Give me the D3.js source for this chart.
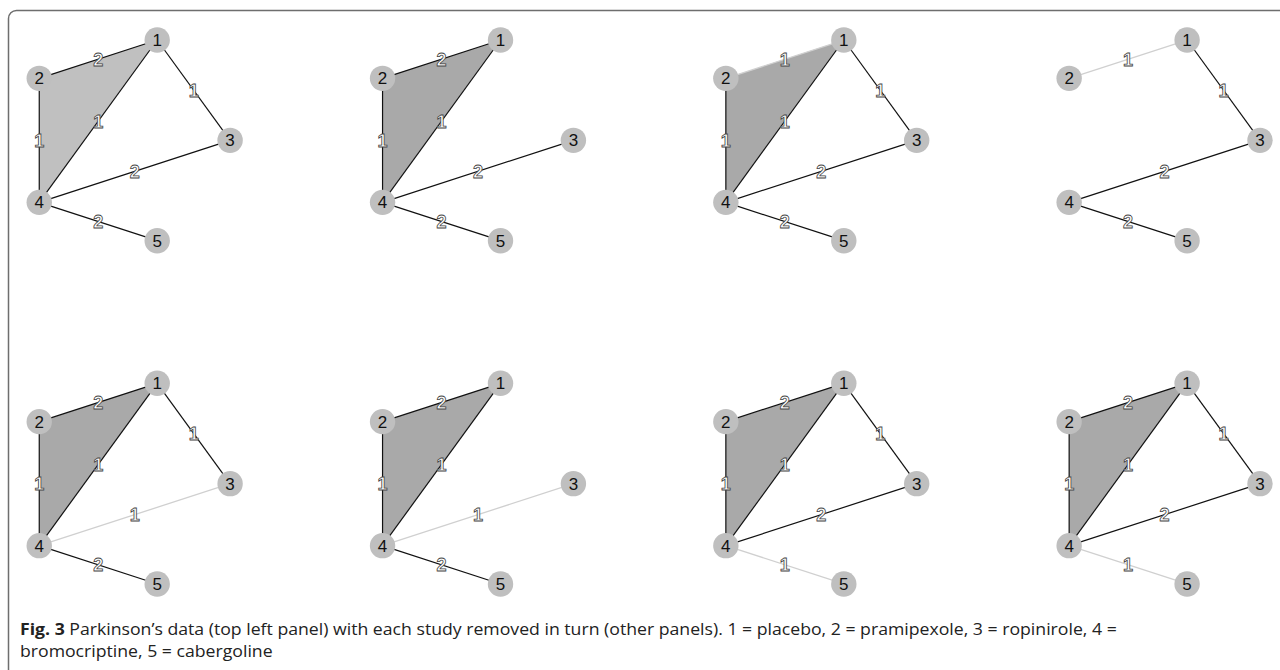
<!DOCTYPE html>
<html>
<head>
<meta charset="utf-8">
<script src="https://cdn.jsdelivr.net/npm/d3@7"></script>
<style>
  body { margin: 0; background: #fff; }
  svg { display: block; }
</style>
</head>
<body>
<div id="chart"></div>
<script>
// treatments, placed on a circle in this order (first one at angle 0)
const treatments = ["1", "2", "3", "4", "5"];
const circleOrder = ["3", "1", "2", "4", "5"];

// comparisons shown in the network
const edgePairs = [["1", "2"], ["1", "3"], ["1", "4"], ["2", "4"], ["3", "4"], ["4", "5"]];

// number of studies per comparison, one row per panel (first = full data)
const studyCounts = [
    [2, 1, 1, 1, 2, 2],
    [2, 0, 1, 1, 2, 2],
    [1, 1, 1, 1, 2, 2],
    [1, 1, 0, 0, 2, 2],
    [2, 1, 1, 1, 1, 2],
    [2, 0, 1, 1, 1, 2],
    [2, 1, 1, 1, 2, 1],
    [2, 1, 1, 1, 2, 1]
];

// the three-arm trial (1 vs 2 vs 4), present or not per panel
const multiArm = ["1", "2", "4"];
const hasMultiArm = [true, true, true, false, true, true, true, true];

const captionBold = "Fig. 3";
const captionLines = [
    " Parkinson\u2019s data (top left panel) with each study removed in turn (other panels). 1 = placebo, 2 = pramipexole, 3 = ropinirole, 4 =",
    "bromocriptine, 5 = cabergoline"
];

const W = 1280, H = 670;
const cols = 4;
const step = 343.3;             // panel spacing
const cx0 = 124.6, cy0 = 140.35; // centre of first panel
const R = 105.5;

const svg = d3.select("#chart").append("svg")
    .attr("width", W)
    .attr("height", H);

// frame
svg.append("rect")
    .attr("x", 8.5).attr("y", 10.5)
    .attr("width", W + 20).attr("height", H + 20)
    .attr("rx", 8)
    .attr("fill", "none")
    .attr("stroke", "#6e6e6e")
    .attr("stroke-width", 1.5);

// circular layout in unit coords
const layout = {};
circleOrder.forEach((t, i) => {
    const a = 2 * Math.PI * i / circleOrder.length;
    layout[t] = {x: Math.cos(a), y: Math.sin(a)};
});

const x = d3.scaleLinear().domain([-1, 1]).range([cx0 - R, cx0 + R]);
const y = d3.scaleLinear().domain([-1, 1]).range([cy0 + R, cy0 - R]);

studyCounts.forEach((counts, p) => {
    const col = p % cols, row = Math.floor(p / cols);
    const g = svg.append("g")
        .attr("transform", `translate(${col * step},${row * step})`);

    const px = t => x(layout[t].x);
    const py = t => y(layout[t].y);

    if (hasMultiArm[p]) {
        g.append("polygon")
            .attr("points", multiArm.map(t => px(t) + "," + py(t)).join(" "))
            .attr("fill", p === 0 ? "#c0c0c0" : "#a9a9a9")
            .attr("stroke", "none");
    }

    const edges = edgePairs.map((e, i) => ({
        a: e[0], b: e[1], n: counts[i],
        reduced: counts[i] > 0 && counts[i] < studyCounts[0][i]
    })).filter(d => d.n > 0);

    g.selectAll("line.edge")
        .data(edges)
        .enter().append("line")
        .attr("class", "edge")
        .attr("x1", d => px(d.a)).attr("y1", d => py(d.a))
        .attr("x2", d => px(d.b)).attr("y2", d => py(d.b))
        .attr("stroke", d => d.reduced ? "#d0d0d0" : "#111")
        .attr("stroke-width", d => d.reduced ? 1.3 : 1.2);

    // hollow-looking count labels at edge midpoints
    g.selectAll("text.elab")
        .data(edges)
        .enter().append("text")
        .attr("class", "elab")
        .attr("x", d => (px(d.a) + px(d.b)) / 2)
        .attr("y", d => (py(d.a) + py(d.b)) / 2)
        .attr("text-anchor", "middle")
        .attr("dy", "0.36em")
        .attr("font-family", "Liberation Sans, Arial, sans-serif")
        .attr("font-weight", "bold")
        .attr("font-size", 18)
        .attr("fill", "#fff")
        .attr("stroke", "#444")
        .attr("stroke-width", 0.8)
        .text(d => d.n);

    const nodes = g.selectAll("g.node")
        .data(treatments)
        .enter().append("g")
        .attr("class", "node")
        .attr("transform", t => `translate(${px(t)},${py(t)})`);

    nodes.append("circle")
        .attr("r", 12.7)
        .attr("fill", "#bfbfbf");

    nodes.append("text")
        .attr("text-anchor", "middle")
        .attr("dy", "0.36em")
        .attr("font-family", "Liberation Sans, Arial, sans-serif")
        .attr("font-size", 17)
        .attr("fill", "#111")
        .text(t => t);
});

// caption
const cap = svg.append("g")
    .attr("font-family", "Open Sans, Noto Sans, sans-serif")
    .attr("font-size", 16.5)
    .attr("fill", "#222");

const line1 = cap.append("text")
    .attr("x", 0).attr("y", 635);
line1.append("tspan").attr("font-weight", "bold").text(captionBold);
line1.append("tspan").text(captionLines[0]);

cap.append("text")
    .attr("x", 0).attr("y", 657)
    .text(captionLines[1]);

// narrow the caption so line 1 spans as in the figure
const target = 1098;
const k = target / line1.node().getComputedTextLength();
cap.attr("transform", `translate(20,0) scale(${k},1)`);
</script>
</body>
</html>
